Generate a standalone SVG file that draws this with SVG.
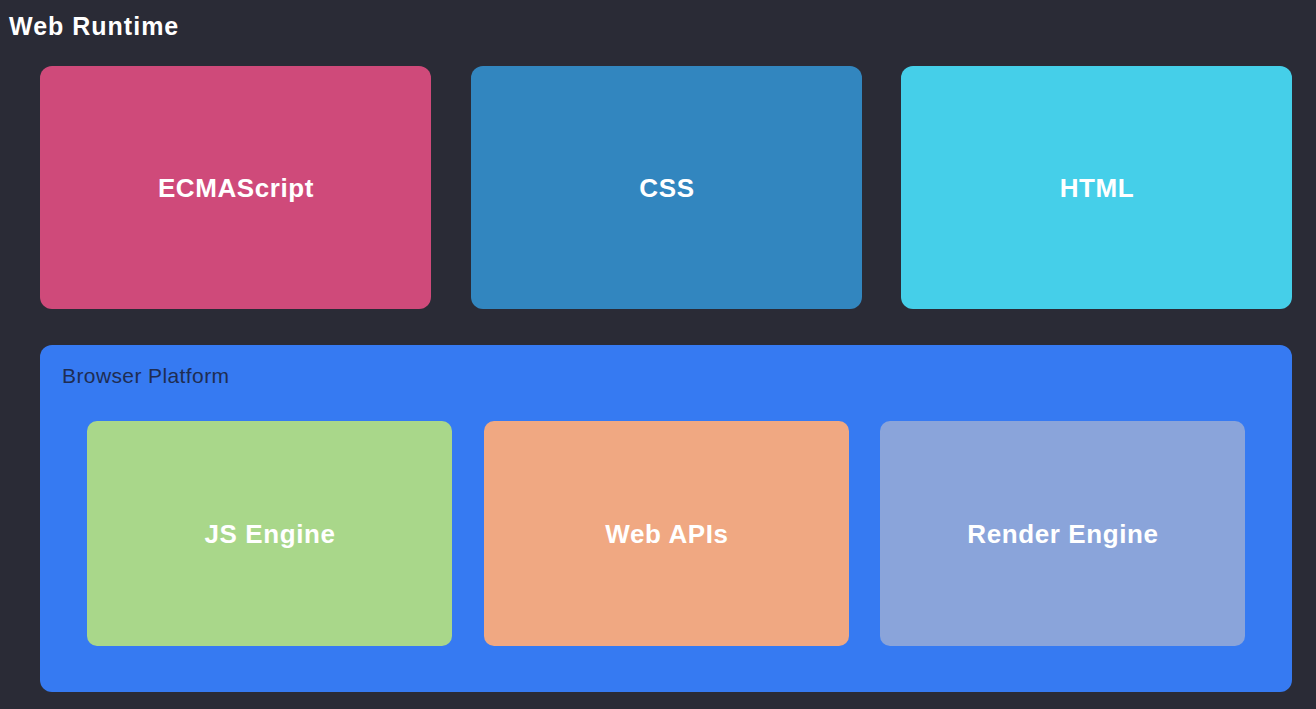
<svg xmlns="http://www.w3.org/2000/svg" width="1316" height="709" viewBox="0 0 1316 709">
  <style>
    .title { font-family: "Liberation Sans", Arial, sans-serif; font-size: 25px; font-weight: bold; letter-spacing: 1px; fill: #ffffff; }
    .label { font-family: "Liberation Sans", Arial, sans-serif; font-size: 26px; font-weight: bold; letter-spacing: 0.6px; fill: #ffffff; text-anchor: middle; dominant-baseline: central; }
    .caption { font-family: "Liberation Sans", Arial, sans-serif; font-size: 21px; letter-spacing: 0.4px; fill: #1f2d52; }
  </style>
  <rect x="0" y="0" width="1316" height="709" fill="#2a2b36"/>
  <text class="title" x="9" y="35">Web Runtime</text>

  <g id="ecmascript">
    <rect x="40" y="66" width="391" height="243" rx="12" fill="#cf4a7a"/>
    <text class="label" x="236" y="188">ECMAScript</text>
  </g>
  <g id="css">
    <rect x="471" y="66" width="391" height="243" rx="12" fill="#3286bf"/>
    <text class="label" x="667" y="188">CSS</text>
  </g>
  <g id="html">
    <rect x="901" y="66" width="391" height="243" rx="12" fill="#45cfe9"/>
    <text class="label" x="1097" y="188">HTML</text>
  </g>

  <g id="browser-platform">
    <rect x="40" y="345" width="1252" height="347" rx="12" fill="#367af2"/>
    <text class="caption" x="62" y="383">Browser Platform</text>
  </g>
  <g id="js-engine">
    <rect x="87" y="421" width="365" height="225" rx="10" fill="#a9d78a"/>
    <text class="label" x="270" y="534">JS Engine</text>
  </g>
  <g id="web-apis">
    <rect x="484" y="421" width="365" height="225" rx="10" fill="#f0a882"/>
    <text class="label" x="667" y="534">Web APIs</text>
  </g>
  <g id="render-engine">
    <rect x="880" y="421" width="365" height="225" rx="10" fill="#8aa4da"/>
    <text class="label" x="1063" y="534">Render Engine</text>
  </g>

  <g id="connectors"/>
</svg>
